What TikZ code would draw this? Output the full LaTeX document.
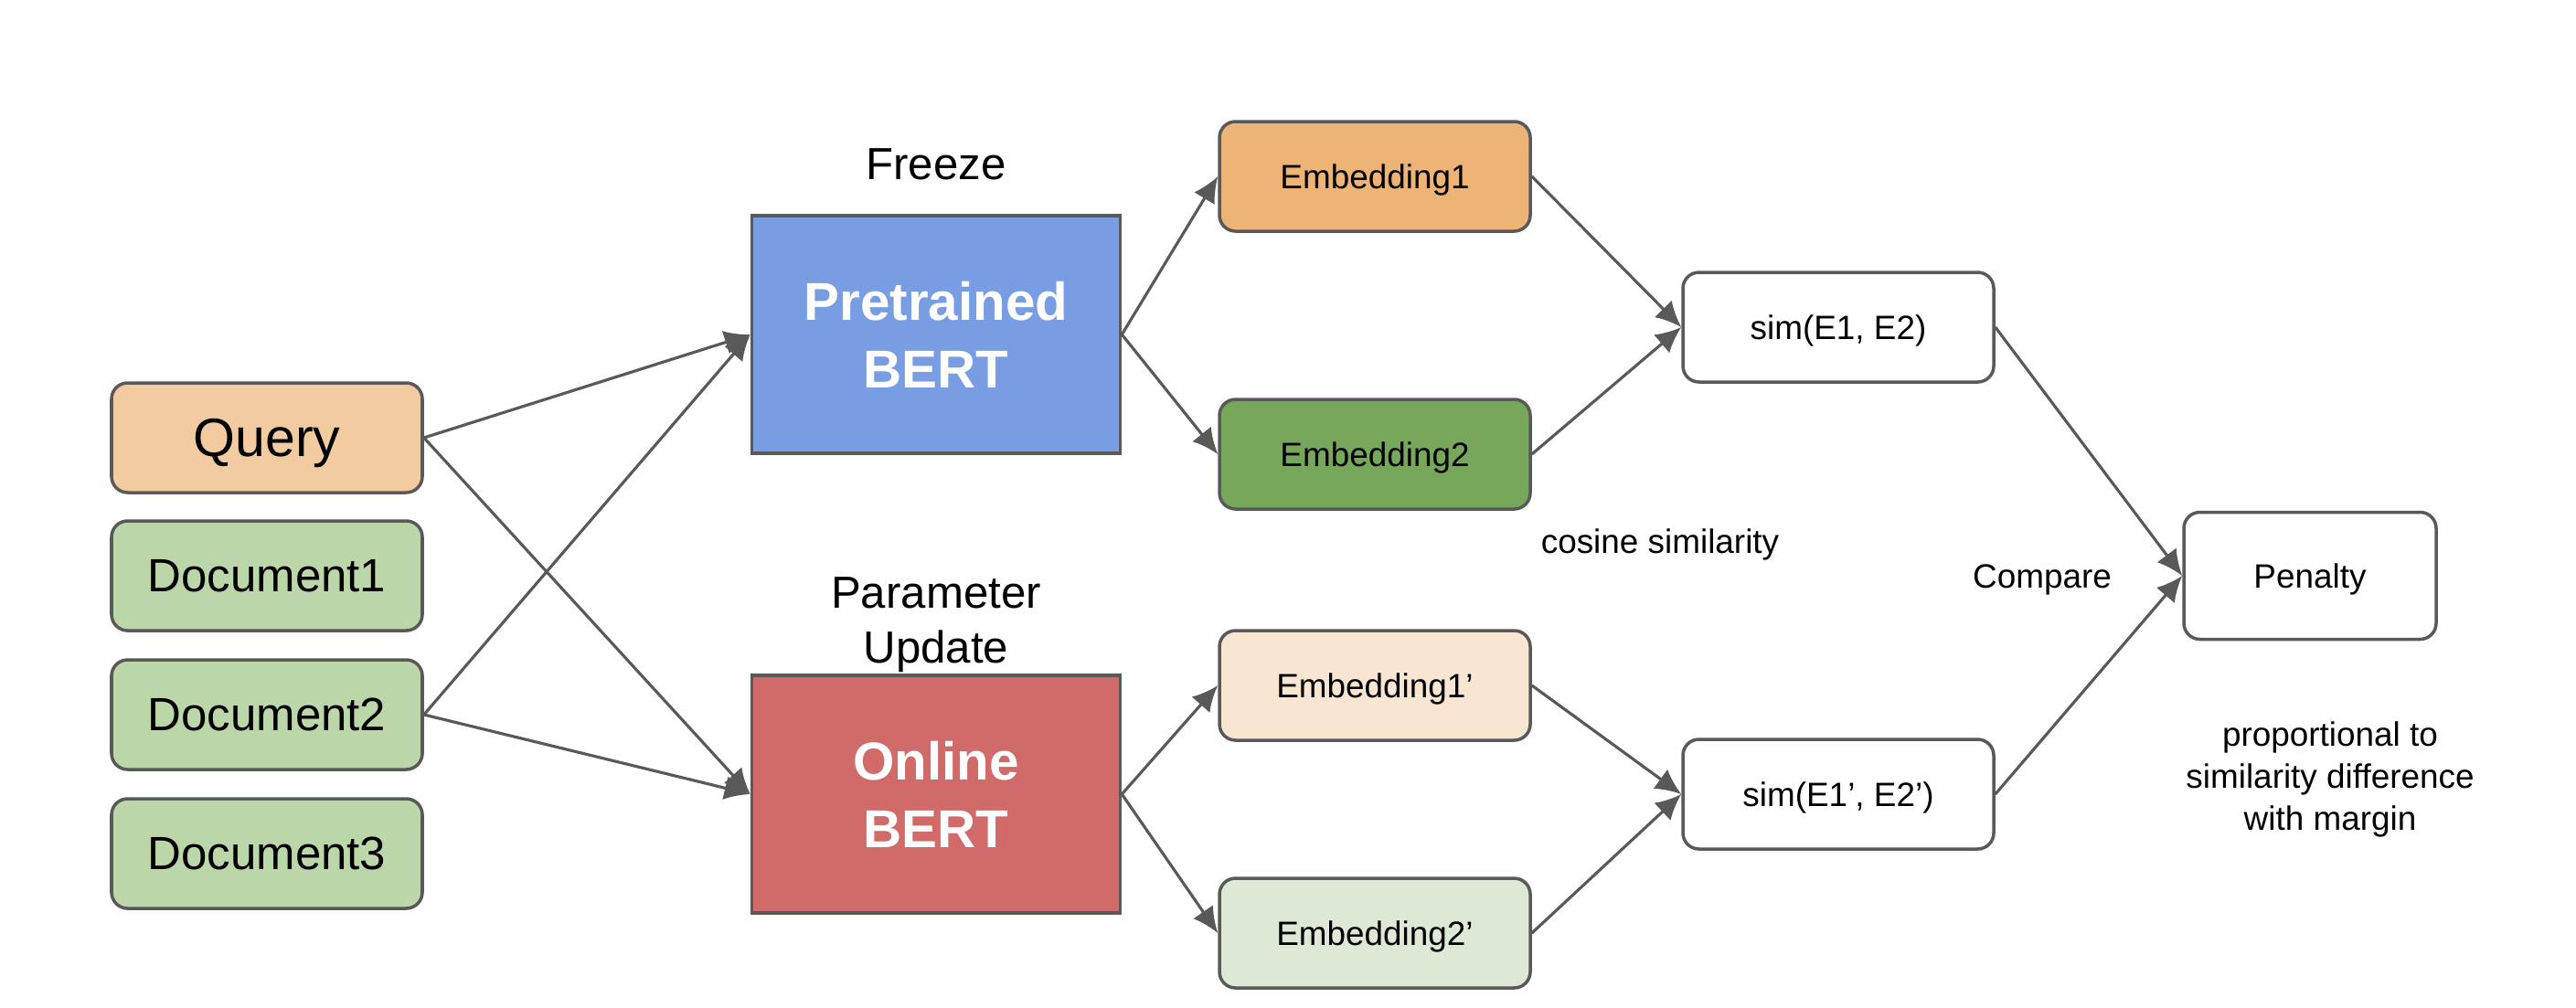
\documentclass[tikz,border=0pt]{standalone}
\usepackage{fontspec}
\setmainfont{Liberation Sans}
\usetikzlibrary{arrows.meta}

\definecolor{edgegray}{HTML}{595959}
\definecolor{queryc}{HTML}{F2CCA0}
\definecolor{docc}{HTML}{BBD6A9}
\definecolor{prec}{HTML}{789DE3}
\definecolor{onlc}{HTML}{D06B69}
\definecolor{embA}{HTML}{EDB476}
\definecolor{embB}{HTML}{76A75A}
\definecolor{embAp}{HTML}{F9E6D2}
\definecolor{embBp}{HTML}{DDE8D5}

\begin{document}
\begin{tikzpicture}

\tikzset{box/.style = {shape=rectangle,rounded corners=5pt,draw=edgegray,line width=1pt,inner sep=0pt,text depth=0pt,minimum width=3.4cm,minimum height=1.2cm}}
\tikzset{bert/.style = {shape=rectangle,draw=edgegray,line width=1pt,inner sep=0pt,minimum width=4.03cm,minimum height=2.6cm,text=white,align=center,font=\fontsize{16.6}{21}\selectfont\bfseries}}
\tikzset{edge/.style = {-{Latex[length=8pt,width=7.5pt]},draw=edgegray,line width=0.9pt}}
\useasboundingbox (0,0) rectangle (28.18,-11.02);
%inputs
\node[box, fill=queryc, font=\fontsize{16.8}{20}\selectfont] (query) at (2.92,-4.79) {Query};
\node[box, fill=docc, font=\fontsize{14.5}{18}\selectfont] (doc1) at (2.92,-6.30) {Document1};
\node[box, fill=docc, font=\fontsize{14.5}{18}\selectfont] (doc2) at (2.92,-7.82) {Document2};
\node[box, fill=docc, font=\fontsize{14.5}{18}\selectfont] (doc3) at (2.92,-9.34) {Document3};
%models
\node[bert, fill=prec] (pre) at (10.24,-3.66) {Pretrained\\BERT};
\node[bert, fill=onlc] (onl) at (10.24,-8.69) {Online\\BERT};
\node[font=\fontsize{14}{17}\selectfont] (freeze) at (10.24,-1.80) {Freeze};
\node[font=\fontsize{14}{17}\selectfont, align=center] (update) at (10.24,-6.84) {Parameter\\Update};
%embeddings
\node[box, fill=embA, font=\fontsize{10.5}{13}\selectfont] (emb1) at (15.04,-1.93) {Embedding1};
\node[box, fill=embB, font=\fontsize{10.5}{13}\selectfont] (emb2) at (15.04,-4.97) {Embedding2};
\node[box, fill=embAp, font=\fontsize{10.5}{13}\selectfont] (emb1p) at (15.04,-7.50) {Embedding1’};
\node[box, fill=embBp, font=\fontsize{10.5}{13}\selectfont] (emb2p) at (15.04,-10.21) {Embedding2’};
%similarities
\node[box, fill=white, font=\fontsize{10.5}{13}\selectfont] (sim1) at (20.11,-3.58) {sim(E1, E2)};
\node[box, fill=white, font=\fontsize{10.5}{13}\selectfont] (sim2) at (20.11,-8.69) {sim(E1’, E2’)};
\node[box, fill=white, minimum width=2.76cm, minimum height=1.39cm, font=\fontsize{10.5}{13}\selectfont] (pen) at (25.27,-6.30) {Penalty};
%labels
\node[font=\fontsize{10.5}{13}\selectfont] (cos) at (18.16,-5.96) {cosine similarity};
\node[font=\fontsize{10.5}{13}\selectfont] (cmp) at (22.34,-6.34) {Compare};
\node[font=\fontsize{10.5}{13.2}\selectfont, align=center] (prop) at (25.49,-8.53) {proportional to\\similarity difference\\with margin};
%edges
\draw[edge] (query.east) -- (pre.west);
\draw[edge] (query.east) -- (onl.west);
\draw[edge] (doc2.east) -- (pre.west);
\draw[edge] (doc2.east) -- (onl.west);
\draw[edge] (pre.east) -- (emb1.west);
\draw[edge] (pre.east) -- (emb2.west);
\draw[edge] (onl.east) -- (emb1p.west);
\draw[edge] (onl.east) -- (emb2p.west);
\draw[edge] (emb1.east) -- (sim1.west);
\draw[edge] (emb2.east) -- (sim1.west);
\draw[edge] (emb1p.east) -- (sim2.west);
\draw[edge] (emb2p.east) -- (sim2.west);
\draw[edge] (sim1.east) -- (pen.west);
\draw[edge] (sim2.east) -- (pen.west);

\end{tikzpicture}
\end{document}
